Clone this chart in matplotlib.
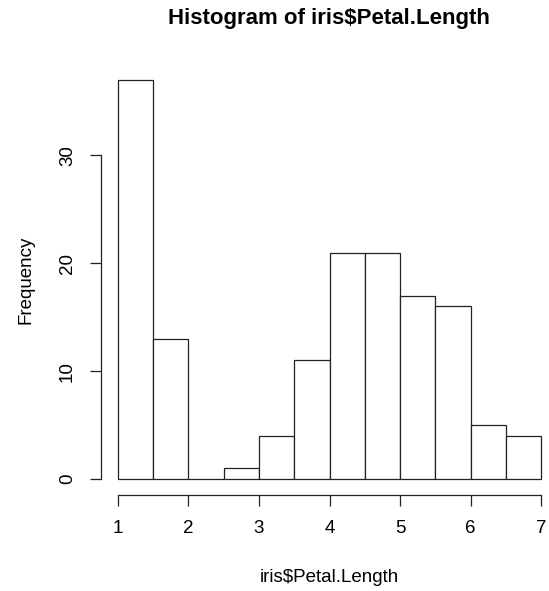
# histogram of iris petal length, R base-graphics look

import matplotlib.pyplot as plt

plt.rcParams['font.family'] = ['Liberation Sans', 'DejaVu Sans']

bin_edges = [1.0, 1.5, 2.0, 2.5, 3.0, 3.5, 4.0, 4.5, 5.0, 5.5, 6.0, 6.5, 7.0]
counts = [37, 13, 0, 1, 4, 11, 21, 21, 17, 16, 5, 4]
x_ticks = [1, 2, 3, 4, 5, 6, 7]
y_ticks = [0, 10, 20, 30]

fig = plt.figure(figsize=(5.49, 5.91), dpi=100)
ax = fig.add_axes([0.184, 0.1624, 0.8324, 0.7293])

widths = [b - a for a, b in zip(bin_edges[:-1], bin_edges[1:])]
ax.bar(bin_edges[:-1], counts, width=widths, align='edge',
       facecolor='white', edgecolor='#222222', linewidth=0.9)

# R style: 4% padding, detached axes
ax.set_xlim(0.76, 7.24)
ax.set_ylim(-1.48, 38.48)
for s in ['top', 'right']:
    ax.spines[s].set_visible(False)
ax.spines['bottom'].set_bounds(1, 7)
ax.spines['left'].set_bounds(0, 30)
for s in ['bottom', 'left']:
    ax.spines[s].set_linewidth(0.9)
    ax.spines[s].set_color('#222222')

ax.set_xticks(x_ticks)
ax.set_yticks(y_ticks)
ax.tick_params(axis='both', direction='out', length=8, width=0.9,
               color='#222222', labelsize=13.5, pad=10)
plt.setp(ax.get_yticklabels(), rotation=90, va='center')

ax.set_xlabel('iris$Petal.Length', fontsize=13.5, labelpad=23)
ax.set_ylabel('Frequency', fontsize=13.5, labelpad=18)
fig.text(0.6, 0.968, 'Histogram of iris$Petal.Length', ha='center', va='center',
         fontsize=16, fontweight='bold')

fig.savefig('out.png', dpi=100)
